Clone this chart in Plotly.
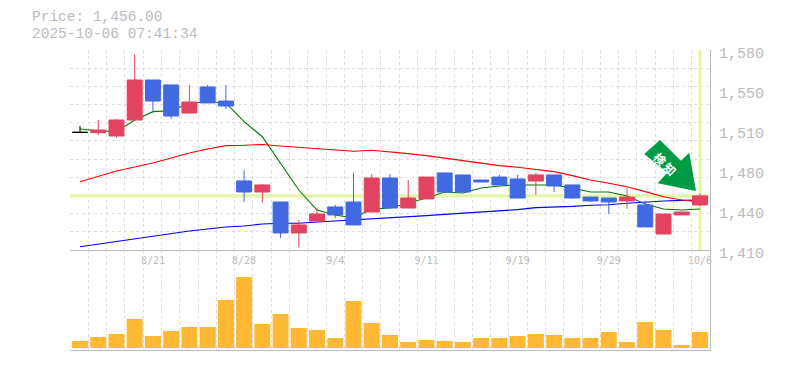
import numpy as np
import plotly.graph_objects as go

dates = ["8/15","8/18","8/19","8/20","8/21","8/22","8/25","8/26","8/27","8/28","8/29",
         "9/1","9/2","9/3","9/4","9/5","9/8","9/9","9/10","9/11","9/12","9/16","9/17","9/18","9/19",
         "9/22","9/24","9/25","9/26","9/29","9/30","10/1","10/2","10/3","10/6"]
opens = [1510,1509.7,1506.9,1520.5,1554.5,1550.3,1526.4,1548.6,1536.6,1468.7,1459.3,1450.8,1424.5,1434.6,1446.6,
         1450.8,1442.3,1471.2,1445.7,1453.4,1475.5,1473.8,1469.5,1472,1470.4,1468.6,1473.8,1465.3,1455,1454.2,
         1451.7,1448.3,1423.6,1439.8,1448.3]
closes = [1510,1512,1520.5,1554.5,1536.6,1523.9,1535.8,1535,1532.4,1459.3,1465.3,1424.5,1431.3,1440.6,1439.8,
          1431.3,1471.2,1445.7,1454.2,1472,1459.3,1459.3,1467.8,1465.3,1454.2,1473.8,1464.4,1454.2,1451.7,1450.8,
          1455,1429.6,1440.6,1442.3,1456]
highs = [1515.4,1520.5,1521.4,1576.6,1554.5,1550.3,1550.3,1550.3,1550.3,1478,1466.1,1450.8,1435.5,1445.7,1448.3,
         1475.5,1474.6,1474.6,1469.5,1472,1475.5,1473.8,1469.5,1473.8,1473.8,1475.5,1473.8,1465.3,1455,1454.2,
         1462.7,1451.7,1440.6,1442.3,1458]
lows = [1510,1507.8,1505.5,1520.5,1526.7,1521.6,1526.4,1535,1529.9,1450.8,1450,1420.2,1412.5,1434.6,1437.2,
        1431.3,1442.3,1445.7,1445.7,1453.4,1459.3,1458.4,1467.8,1465.3,1454.2,1456.8,1459.3,1453.4,1450.8,1440.6,
        1444.9,1429.6,1423.6,1439.8,1447.4]
ma_short = [1512.9,1511.4,1510.6,1520.5,1527.6,1528.4,1535,1535.8,1535,1519.1,1506.3,1484,1461,1444,1439.8,
            1437.2,1444.9,1445.7,1450,1454.2,1459.3,1458.5,1462.7,1464.4,1465.3,1465.3,1465.3,1462.7,1459.3,1459.3,
            1455.9,1449.1,1444.9,1444,1444.9]
ma_mid = [1468,1472.9,1477.2,1480.6,1484,1488.2,1492.5,1495.9,1498.7,1499,1499.7,1498.4,1497.3,1496.7,1495.6,
          1493.9,1494.8,1493.6,1491.9,1490.2,1488,1485.7,1483.7,1481.7,1480.3,1478.6,1476.6,1473.2,1469.5,1466.7,
          1463.8,1459.6,1455.3,1452.5,1450.8]
ma_long = [1412.8,1415.1,1417.4,1419.4,1421.9,1423.9,1426.2,1427.9,1429.6,1430.4,1432.1,1432.7,1432.7,1433.8,1434.7,
           1435.5,1436.1,1437.2,1437.8,1439.2,1440.3,1441.2,1442.3,1443.2,1444.3,1446,1446.3,1447.1,1448,1448.5,
           1449.7,1450.8,1451.7,1452.2,1452.5]
volume = [700,1100,1400,2900,1200,1700,2100,2100,4800,7100,2400,3400,2000,1800,1000,4700,2500,1300,
          600,800,700,600,1000,1000,1200,1400,1300,1000,1000,1600,600,2600,1800,300,1600]
price_ticks = [1580,1546,1512,1478,1444,1410]
price_labels = ["1,580","1,550","1,510","1,480","1,440","1,410"]
date_ticks = [4,9,14,19,24,29,34]
header_price = "Price: 1,456.00"
header_time = "2025-10-06 07:41:34"
marker_text = ["検","知"]

GRAY = "#bbbbbb"
GRID = "#dddddd"
HILITE = "#e4f6a8"
RED = "#e34360"
BLUE = "#4169e1"
MONO = "Liberation Mono"

idx = list(range(len(dates)))
xr = [-0.548, 34.55]
yr = [1410, 1580]
grid_x = np.linspace(xr[0], xr[1], 36).tolist()
grid_y = np.linspace(yr[0], yr[1], 12).tolist()
last = closes[-1]

fig = go.Figure()
fig.add_trace(go.Scatter(x=xr, y=[last, last], mode="lines", line=dict(color=HILITE, width=3.2), hoverinfo="skip"))
fig.add_trace(go.Scatter(x=[idx[-1], idx[-1]], y=yr, mode="lines", line=dict(color=HILITE, width=3.2), hoverinfo="skip"))
for vals, col in ((ma_long, "#0000ff"), (ma_mid, "#ff0000"), (ma_short, "#007700")):
    fig.add_trace(go.Scatter(x=idx, y=vals, mode="lines", line=dict(color=col, width=1.1)))

main = [i for i in idx if opens[i] != closes[i]]
doji = [i for i in idx if opens[i] == closes[i]]
def pick(a, ids):
    return [a[i] for i in ids]
fig.add_trace(go.Candlestick(x=main, open=pick(opens, main), high=pick(highs, main), low=pick(lows, main),
                             close=pick(closes, main), whiskerwidth=0, yaxis="y3",
                             increasing=dict(line=dict(color=RED, width=1), fillcolor=RED),
                             decreasing=dict(line=dict(color=BLUE, width=1), fillcolor=BLUE)))
fig.add_trace(go.Candlestick(x=doji, open=pick(opens, doji), high=pick(highs, doji), low=pick(lows, doji),
                             close=pick(closes, doji), whiskerwidth=0, yaxis="y3",
                             increasing=dict(line=dict(color="#000000", width=1), fillcolor="#000000"),
                             decreasing=dict(line=dict(color="#000000", width=1), fillcolor="#000000")))
fig.add_trace(go.Bar(x=idx, y=volume, width=0.877, marker=dict(color="#ffb833", line_width=0), xaxis="x2", yaxis="y2"))

minor_x = dict(tickmode="array", tickvals=grid_x, showgrid=True, gridcolor=GRID, gridwidth=1, griddash="3px,3px", ticks="")

arrow = [(-40, 55.9), (-55.7, 41.9), (-32.7, 23.2), (-42.3, 12.6), (-4, 4.9), (-10.7, 43.2), (-19, 35.2)]
path = "M " + " L ".join(f"{a} {b}" for a, b in arrow) + " Z"

fig.update_layout(
    width=785, height=370, autosize=False,
    margin=dict(l=70, r=75, t=50, b=20, pad=0, autoexpand=False),
    paper_bgcolor="white", plot_bgcolor="white", showlegend=False, boxgap=0.18, boxgroupgap=0, boxmode="overlay",
    font=dict(family=MONO, color=GRAY),
    xaxis=dict(domain=[0, 1], range=xr, anchor="y", rangeslider=dict(visible=False), showgrid=False, zeroline=False,
               automargin=False,
               tickmode="array", tickvals=date_ticks, ticktext=pick(dates, date_ticks), ticks="",
               tickfont=dict(family="DejaVu Sans Mono", size=10, color=GRAY), ticklabelstandoff=1,
               showline=True, linecolor=GRAY, linewidth=1, minor=minor_x),
    xaxis2=dict(domain=[0, 1], range=xr, anchor="y2", showgrid=False, zeroline=False, showticklabels=False, ticks="",
                automargin=False, showline=True, linecolor=GRAY, linewidth=1, minor=minor_x),
    yaxis=dict(domain=[1/3, 1], range=yr, anchor="x", side="right", showgrid=False, zeroline=False,
               automargin=False,
               tickmode="array", tickvals=price_ticks, ticktext=price_labels, ticks="",
               tickfont=dict(family=MONO, size=15, color=GRAY), ticklabelshift=3, ticklabelstandoff=5,
               showline=True, linecolor=GRAY, linewidth=1,
               minor=dict(tickmode="array", tickvals=grid_y, showgrid=True, gridcolor=GRID, gridwidth=1,
                          griddash="3px,3px", ticks="")),
    yaxis2=dict(domain=[0, 1/3], range=[-200, 9800], anchor="x2", side="right", showgrid=False, zeroline=False,
                automargin=False, showticklabels=False, ticks="", showline=True, linecolor=GRAY, linewidth=1),
    yaxis3=dict(range=yr, overlaying="y", side="right", visible=False),
    shapes=[dict(type="path", path=path, xref="x", yref="y3", xsizemode="pixel", ysizemode="pixel",
                 xanchor=idx[-1], yanchor=last, fillcolor="#009944", line=dict(width=0), layer="above")],
    annotations=[
        dict(text=header_price, xref="paper", yref="paper", x=-0.0625, y=1.11, xanchor="left", yanchor="middle",
             showarrow=False, font=dict(family=MONO, size=14.5, color=GRAY)),
        dict(text=header_time, xref="paper", yref="paper", x=-0.0625, y=1.0533, xanchor="left", yanchor="middle",
             showarrow=False, font=dict(family=MONO, size=14.5, color=GRAY)),
        dict(text=marker_text[0], xref="x", yref="y3", x=idx[-1], y=last, xshift=-40, yshift=37, textangle=45,
             showarrow=False, font=dict(family="Noto Sans CJK JP", size=12, color="white", weight="bold")),
        dict(text=marker_text[1], xref="x", yref="y3", x=idx[-1], y=last, xshift=-30, yshift=27, textangle=45,
             showarrow=False, font=dict(family="Noto Sans CJK JP", size=12, color="white", weight="bold")),
    ],
)
fig.write_html("out.html", config=dict(displayModeBar=False),
               post_script="document.body.style.margin='0';document.body.style.overflow='hidden';")
